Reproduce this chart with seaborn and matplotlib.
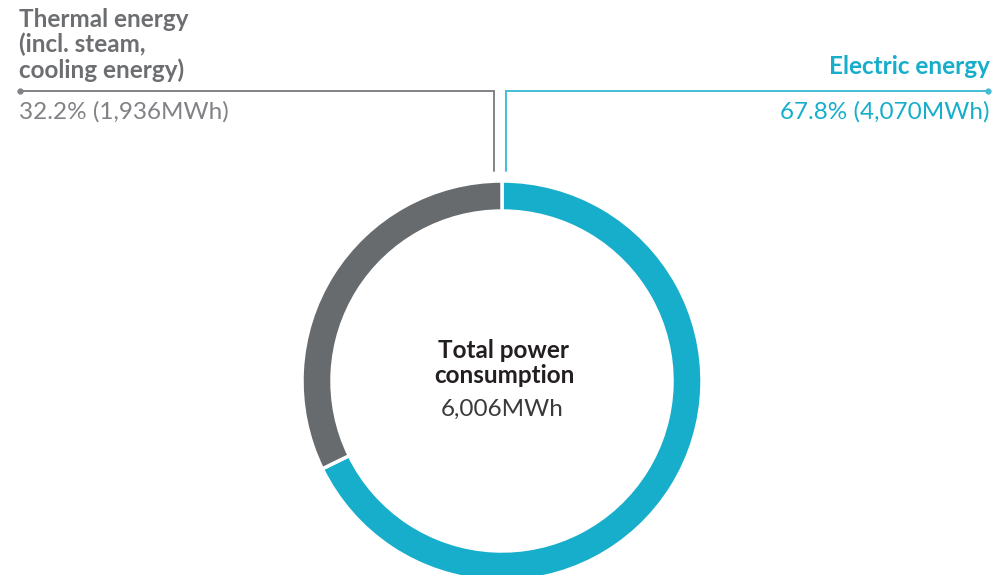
"""Donut chart: total power consumption split into electric and thermal energy."""
import matplotlib
matplotlib.use('Agg')
import matplotlib.pyplot as plt
import seaborn as sns

# data
labels = ['Electric energy', 'Thermal energy\n(incl. steam,\ncooling energy)']
values_mwh = [4070, 1936]
shares = [67.8, 32.2]
total_mwh = 6006

TEAL = '#17aecb'
GREY = '#676b6e'
TEXT_GREY = '#6d6e71'
LINE_TEAL = '#46bdd6'
LINE_GREY = '#808285'

sns.set_theme(style='white')
plt.rcParams['font.family'] = ['Lato', 'DejaVu Sans']

W, H = 993, 575
fig = plt.figure(figsize=(W / 100, H / 100), dpi=100)
ax = fig.add_axes([0, 0, 1, 1])

cx, cy, r = 502, H - 381, 200
ring = 30
ax.pie(values_mwh, colors=[TEAL, GREY], startangle=90, counterclock=False,
       center=(cx, cy), radius=r, frame=True,
       wedgeprops=dict(width=ring, edgecolor='white', linewidth=2.5))
ax.set_xlim(0, W)
ax.set_ylim(0, H)
ax.set_aspect('equal')
ax.axis('off')

# leader lines
ly = H - 91
ax.plot([20, 494, 494], [ly, ly, H - 171], color=LINE_GREY, lw=1.4, solid_joinstyle='miter')
ax.plot([20], [ly], 'o', color=LINE_GREY, ms=3.5)
ax.plot([988, 506, 506], [ly, ly, H - 171], color=LINE_TEAL, lw=1.4, solid_joinstyle='miter')
ax.plot([988], [ly], 'o', color=LINE_TEAL, ms=3.5)

fs = 17.5
# thermal labels
ax.text(19, H - 8, labels[1], ha='left', va='top', fontsize=fs, fontweight='bold',
        color=TEXT_GREY, linespacing=1.1)
ax.text(19, H - 101, f'{shares[1]}% ({values_mwh[1]:,}MWh)', ha='left', va='top',
        fontsize=fs, color='#808285')
# electric labels
ax.text(990, H - 55, labels[0], ha='right', va='top', fontsize=fs, fontweight='bold',
        color=TEAL)
ax.text(990, H - 101, f'{shares[0]}% ({values_mwh[0]:,}MWh)', ha='right', va='top',
        fontsize=fs, color=TEAL)

# center
ax.text(504, H - 339, 'Total power\nconsumption', ha='center', va='top', fontsize=fs,
        fontweight='bold', color='#231f20', linespacing=1.08)
ax.text(502, H - 399, f'{total_mwh:,}MWh', ha='center', va='top', fontsize=fs,
        color='#3a3a3a')

fig.savefig('out.png', dpi=100)
